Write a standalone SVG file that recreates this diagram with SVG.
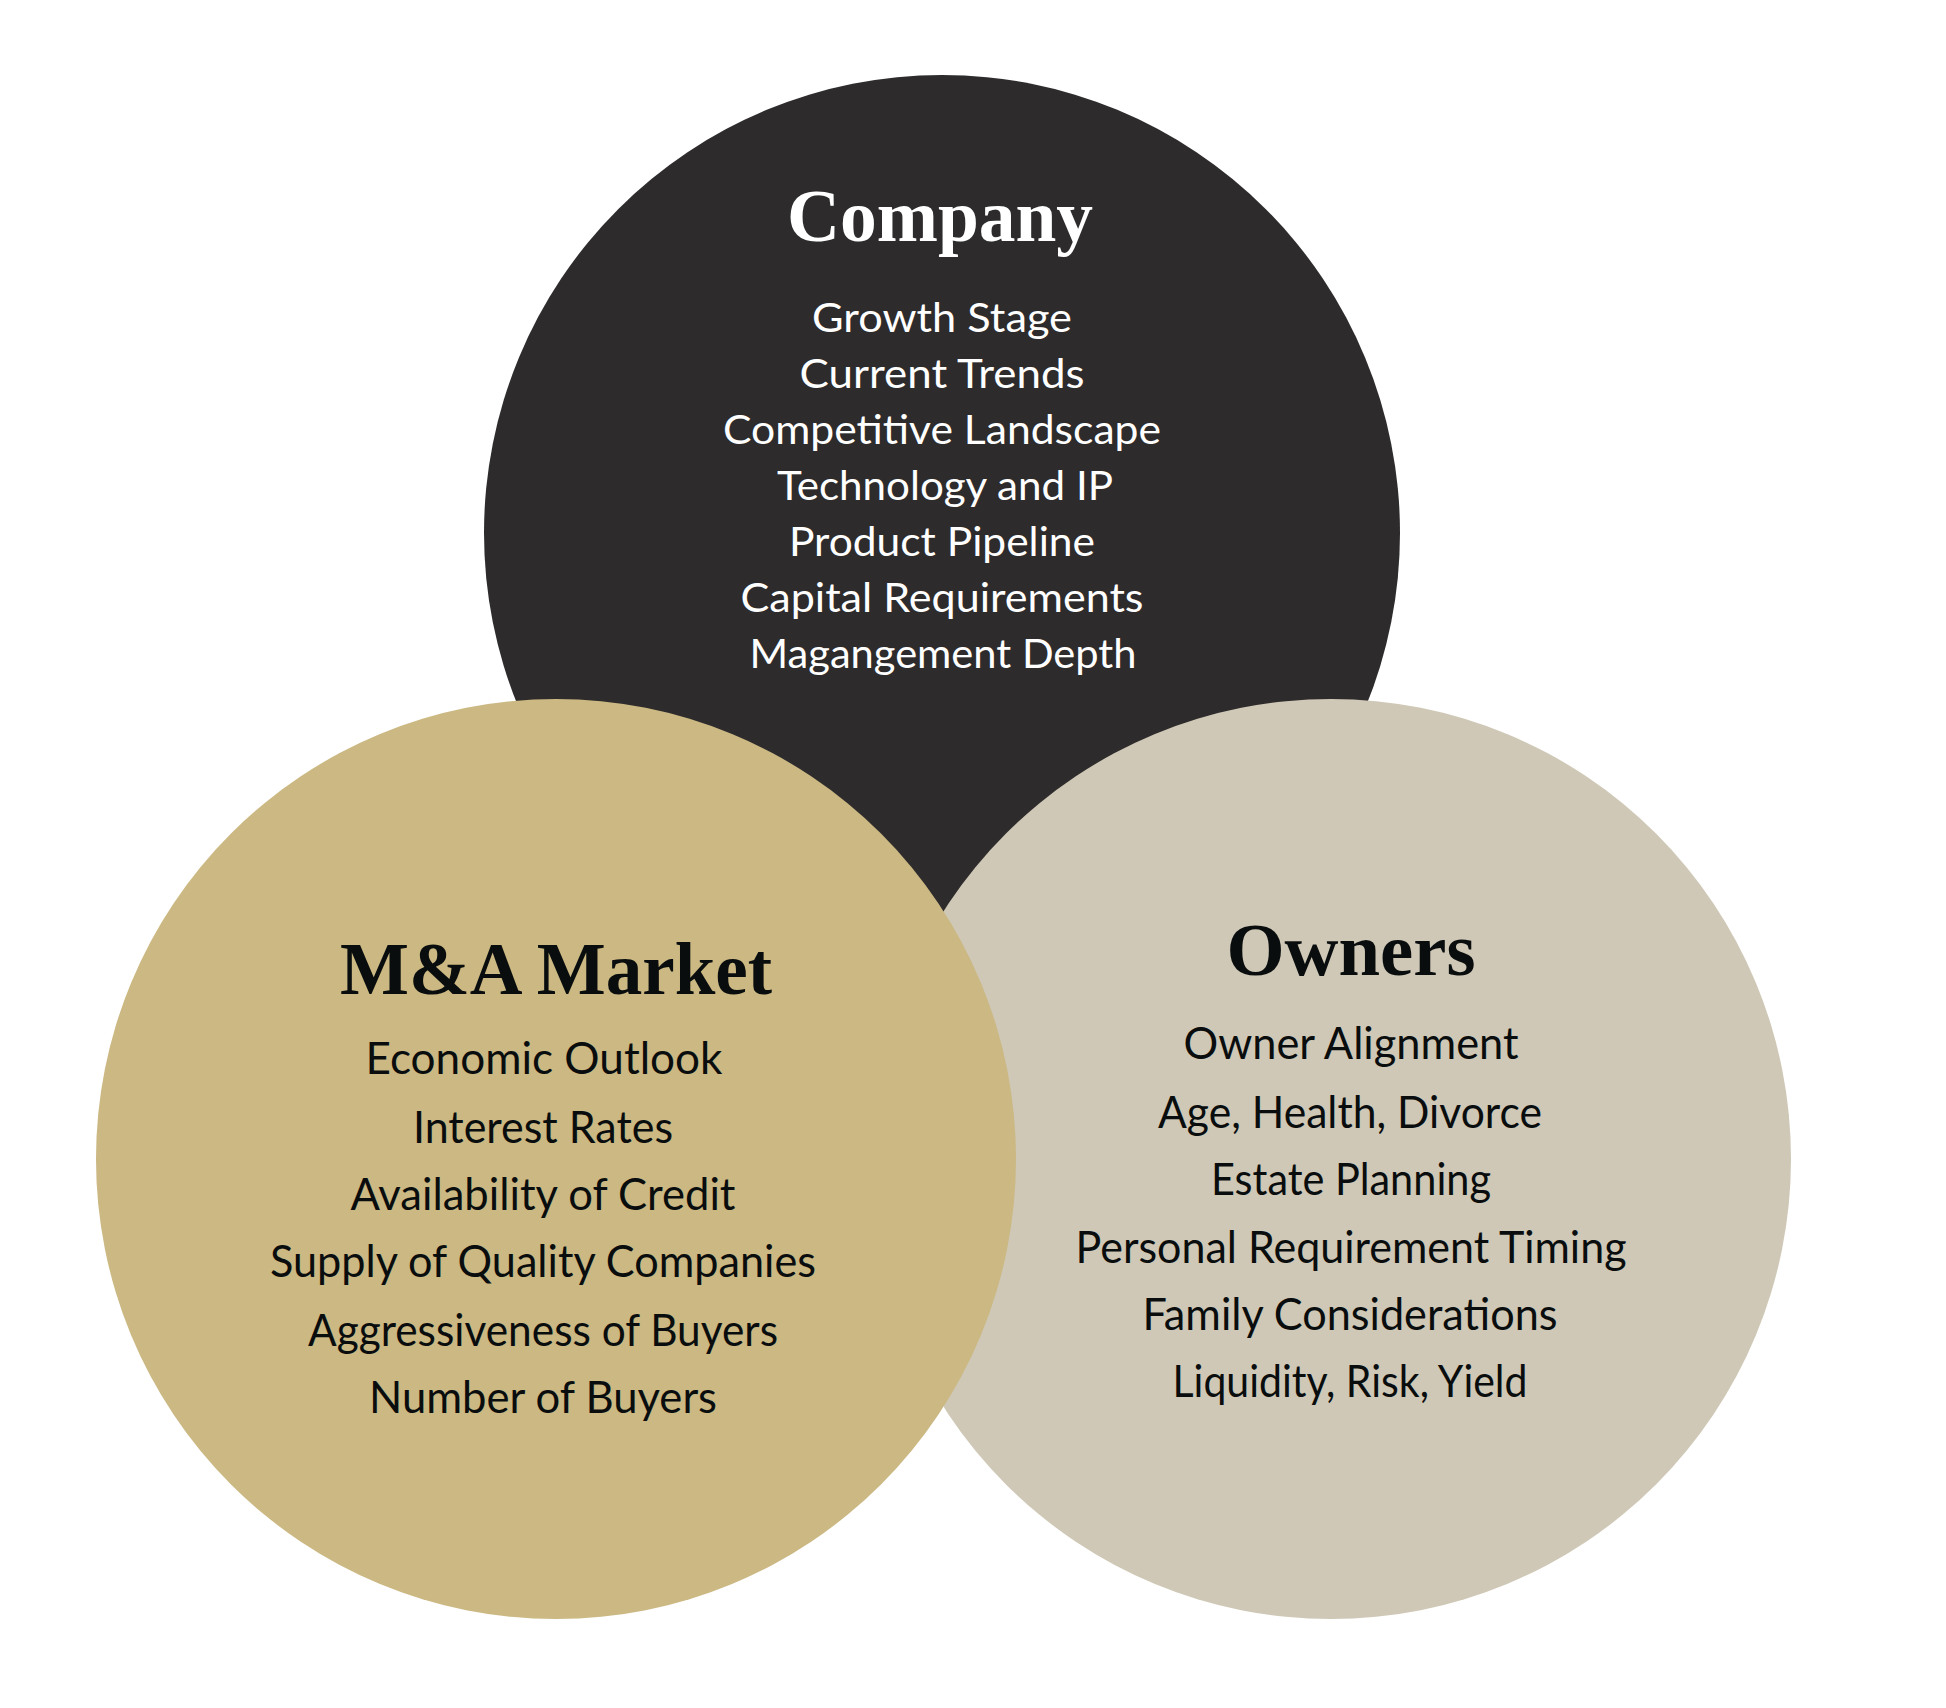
<svg xmlns="http://www.w3.org/2000/svg" width="1946" height="1708" viewBox="0 0 1946 1708">
<style>
.title{font-family:"Liberation Serif","Times New Roman",serif;font-weight:bold;font-size:73px;text-anchor:middle}
.item{font-family:Lato,"Open Sans",sans-serif;text-anchor:middle}
.co .item{font-size:41px}
.big .item{font-size:44px}
.light{fill:#ffffff}
.dark{fill:#0a0d0e}
</style>
<rect width="1946" height="1708" fill="#ffffff"/>
<g id="company" class="co">
<circle cx="942" cy="533" r="458" fill="#2d2b2c"/>
<text class="title light" x="940" y="241" textLength="306" lengthAdjust="spacingAndGlyphs">Company</text>
<text class="item light" x="942" y="332" textLength="260" lengthAdjust="spacingAndGlyphs">Growth Stage</text>
<text class="item light" x="942" y="388" textLength="285" lengthAdjust="spacingAndGlyphs">Current Trends</text>
<text class="item light" x="942" y="444" textLength="438" lengthAdjust="spacingAndGlyphs">Competitive Landscape</text>
<text class="item light" x="945" y="500" textLength="336" lengthAdjust="spacingAndGlyphs">Technology and IP</text>
<text class="item light" x="942" y="556" textLength="306" lengthAdjust="spacingAndGlyphs">Product Pipeline</text>
<text class="item light" x="942" y="612" textLength="403" lengthAdjust="spacingAndGlyphs">Capital Requirements</text>
<text class="item light" x="943" y="668" textLength="387" lengthAdjust="spacingAndGlyphs">Magangement Depth</text>
</g>
<g id="owners" class="big">
<circle cx="1331" cy="1159" r="460" fill="#cfc8b6"/>
<text class="title dark" x="1351" y="975" textLength="249" lengthAdjust="spacingAndGlyphs">Owners</text>
<text class="item dark" x="1351" y="1059" textLength="335" lengthAdjust="spacingAndGlyphs">Owner Alignment</text>
<text class="item dark" x="1350" y="1128" textLength="384" lengthAdjust="spacingAndGlyphs">Age, Health, Divorce</text>
<text class="item dark" x="1351" y="1195" textLength="280" lengthAdjust="spacingAndGlyphs">Estate Planning</text>
<text class="item dark" x="1351" y="1263" textLength="551" lengthAdjust="spacingAndGlyphs">Personal Requirement Timing</text>
<text class="item dark" x="1350" y="1330" textLength="415" lengthAdjust="spacingAndGlyphs">Family Considerations</text>
<text class="item dark" x="1350" y="1397" textLength="355" lengthAdjust="spacingAndGlyphs">Liquidity, Risk, Yield</text>
</g>
<g id="ma-market" class="big">
<circle cx="556" cy="1159" r="460" fill="#cbb882"/>
<text class="title dark" x="556" y="994" textLength="432" lengthAdjust="spacingAndGlyphs">M&amp;A Market</text>
<text class="item dark" x="544" y="1074" textLength="357" lengthAdjust="spacingAndGlyphs">Economic Outlook</text>
<text class="item dark" x="543" y="1143" textLength="260" lengthAdjust="spacingAndGlyphs">Interest Rates</text>
<text class="item dark" x="543" y="1210" textLength="385" lengthAdjust="spacingAndGlyphs">Availability of Credit</text>
<text class="item dark" x="543" y="1277" textLength="546" lengthAdjust="spacingAndGlyphs">Supply of Quality Companies</text>
<text class="item dark" x="543" y="1346" textLength="470" lengthAdjust="spacingAndGlyphs">Aggressiveness of Buyers</text>
<text class="item dark" x="543" y="1413" textLength="348" lengthAdjust="spacingAndGlyphs">Number of Buyers</text>
</g>
</svg>
